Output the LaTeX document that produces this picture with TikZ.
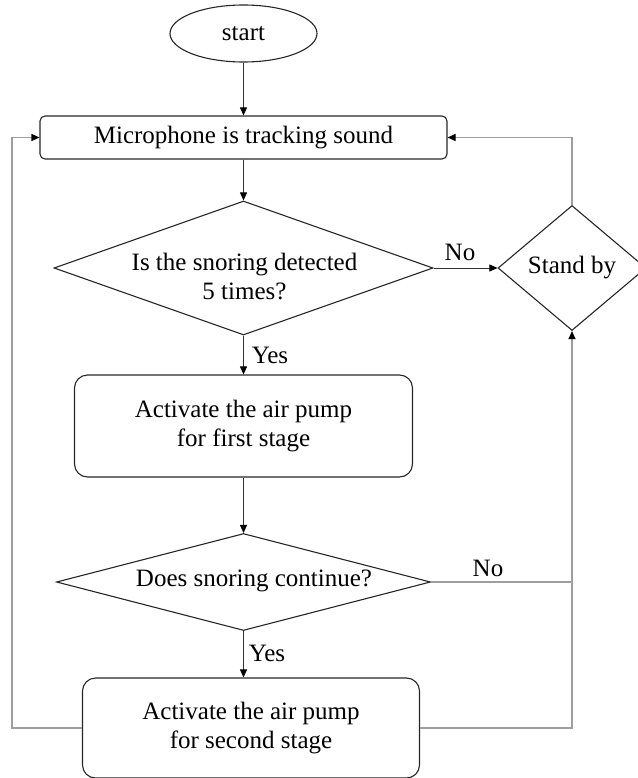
\documentclass[tikz,border=0pt]{standalone}
\usepackage{fontspec}
\setmainfont{Liberation Serif}
\usetikzlibrary{shapes.geometric,arrows.meta}

\tikzset{
  shape line/.style={draw=black!85, line width=1.1pt},
  terminal/.style={shape line, ellipse, inner sep=0pt, minimum width=147, minimum height=57},
  process/.style={shape line, rectangle, rounded corners=13pt, inner sep=0pt, align=center},
  decision/.style={shape line, diamond, inner sep=0pt, aspect=2},
  label text/.style={inner sep=0pt, align=center},
  tip/.style={-{Triangle[length=8pt,width=7pt,color=black]}},
  flow/.style={tip, draw=black!80, line width=0.8pt},
  back/.style={draw=black!38, line width=1.1pt},
  backarrow/.style={back, tip},
}

\begin{document}
\begin{tikzpicture}[x=1pt, y=-1pt, font=\fontsize{25}{29}\selectfont]
  \useasboundingbox (0,0) rectangle (637,778);

  % nodes
  \node[terminal] (start) at (243.5,33.5) {start};
  \node[process, rounded corners=5pt, minimum width=407, minimum height=43]
       (mic) at (243.5,137.5) {Microphone is tracking sound};
  \node[decision, minimum width=379, minimum height=134] (d1) at (243.5,268) {};
  \node[label text] (d1t) at (244.5,277) {Is the snoring detected\\5 times?};
  \node[decision, minimum width=148, minimum height=125] (sb) at (572,268) {Stand by};
  \node[process, minimum width=338, minimum height=102] (b1) at (243.5,426)
       {Activate the air pump\\for first stage};
  \node[decision, minimum width=374, minimum height=97] (d2) at (243.5,582) {};
  \node[label text] (d2t) at (254,581) {Does snoring continue?};
  \node[process, minimum width=337, minimum height=100] (b2) at (251,728)
       {Activate the air pump\\for second stage};

  % main flow
  \draw[flow] (start.south) -- (mic.south |- start.south) -- (mic.north);
  \draw[flow] (mic.south) -- (d1.north);
  \draw[flow] (d1.east) -- (sb.west);
  \draw[flow] (d1.south) -- (b1.north);
  \draw[flow] (b1.south) -- (d2.north);
  \draw[flow] (d2.south) -- (d2.south |- b2.north);

  % branch labels
  \node[label text] (no1) at (460,252) {No};
  \node[label text] (yes1) at (270,355) {Yes};
  \node[label text] (no2) at (488,568) {No};
  \node[label text] (yes2) at (267,653) {Yes};

  % return paths
  \coordinate (lx) at (12,0);
  \draw[back] (d2.east) -- (d2.east -| sb.south);
  \draw[backarrow] (b2.east) -| (sb.south);
  \draw[backarrow] (sb.north) |- (mic.east);
  \draw[backarrow] (b2.west) -- (b2.west -| lx) |- (mic.west);
\end{tikzpicture}
\end{document}
